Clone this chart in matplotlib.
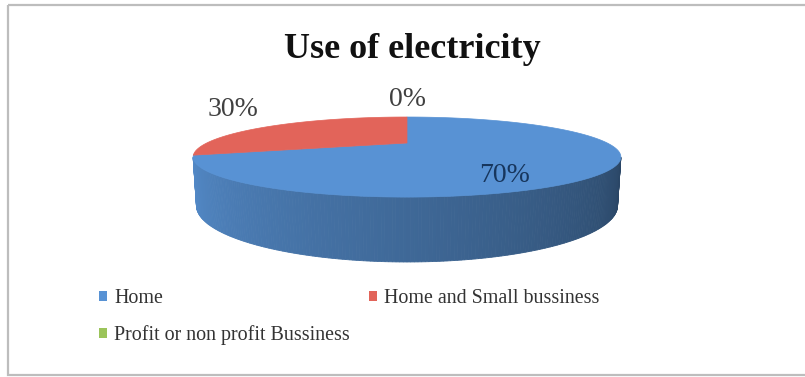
import numpy as np
import matplotlib.pyplot as plt
from matplotlib.patches import Polygon, Rectangle, Patch
from matplotlib.colors import to_rgb

# Chart data
title = 'Use of electricity'
categories = ['Home', 'Home and Small bussiness', 'Profit or non profit Bussiness']
values = [70, 30, 0]
pct_labels = ['70%', '30%', '0%']

# Styling
top_colors = ['#5892d4', '#e2645a', '#9bc45a']
label_colors = ['#17365d', '#404040', '#404040']
label_xy = [(505, 176), (233, 110), (407, 99)]

# 3D projection of the pie (pixel space)
cx, cy = 407, 143
f, D, h = 562.0, 2.806, 0.222
s = 0.1753
c = np.sqrt(1 - s ** 2)


def proj(t, r=1.0, z=0.0):
    X = r * np.cos(t)
    Y = r * np.sin(t)
    d = D + Y * c - z * s
    return cx + f * X / d, cy - f * (Y * s + z * c) / d


def slice_ranges(vals):
    # excel style: start at 12 o'clock, go clockwise
    total = float(sum(vals))
    out = []
    start = np.pi / 2
    for v in vals:
        span = 2 * np.pi * v / total
        out.append((start - span, start))
        start -= span
    return out


def which_slice(t, ranges):
    for i, (a, b) in enumerate(ranges):
        if b - a <= 0:
            continue
        tt = (t - a) % (2 * np.pi)
        if tt <= b - a:
            return i
    return 0


def draw_pie(ax):
    ranges = slice_ranges(values)

    # side wall, only the part facing the viewer
    tl = np.pi + np.arcsin(c / D)
    tr = 2 * np.pi - np.arcsin(c / D)
    n = 200
    ts = np.linspace(tl, tr, n + 1)
    for t0, t1 in zip(ts[:-1], ts[1:]):
        i = which_slice((t0 + t1) / 2, ranges)
        k = ((t0 + t1) / 2 - tl) / (tr - tl)
        shade = 0.95 - 0.47 * k
        col = np.clip(np.array(to_rgb(top_colors[i])) * shade, 0, 1)
        x0, y0 = proj(t0)
        x1, y1 = proj(t1)
        x2, y2 = proj(t1, z=-h)
        x3, y3 = proj(t0, z=-h)
        ax.add_patch(Polygon([(x0, y0), (x1, y1), (x2, y2), (x3, y3)],
                             closed=True, facecolor=col, edgecolor=col, lw=0.6))

    # top face
    for i, (a, b) in enumerate(ranges):
        if b - a <= 0:
            continue
        tt = np.linspace(a, b, 200)
        px, py = proj(tt)
        ccx, ccy = proj(0.0, r=0.0)
        pts = [(ccx, ccy)] + list(zip(px, py))
        ax.add_patch(Polygon(pts, closed=True, facecolor=top_colors[i],
                             edgecolor=top_colors[i], lw=0.5))

    for txt, (x, y), col in zip(pct_labels, label_xy, label_colors):
        ax.text(x, y, txt, ha='center', va='center', fontsize=20,
                color=col, family='Liberation Serif')


def main():
    fig = plt.figure(figsize=(8.05, 3.77), dpi=100)
    ax = fig.add_axes([0, 0, 1, 1])
    ax.set_xlim(0, 805)
    ax.set_ylim(377, 0)
    ax.axis('off')

    ax.add_patch(Rectangle((8, 5), 810, 370, fill=False, edgecolor='#bdbdbd', lw=1.6))

    ax.text(412, 49, title, ha='center', va='center', fontsize=26,
            fontweight='bold', family='Liberation Serif', color='#111111')

    draw_pie(ax)

    handles = [Patch(facecolor=top_colors[i], edgecolor='none', label=categories[i])
               for i in range(len(categories))]
    order = [0, 2, 1]
    ax.legend(handles=[handles[i] for i in order], ncol=2, frameon=False,
              loc='upper left', bbox_to_anchor=(99 / 805, 1 - 289 / 377),
              borderpad=0, borderaxespad=0, handlelength=0.4, handleheight=0.4,
              handletextpad=0.35, labelspacing=0.86, columnspacing=0.95,
              prop={'family': 'Liberation Serif', 'size': 14.4}, labelcolor='#333333')

    fig.savefig('out.png', dpi=100)


if __name__ == "__main__":
    main()
